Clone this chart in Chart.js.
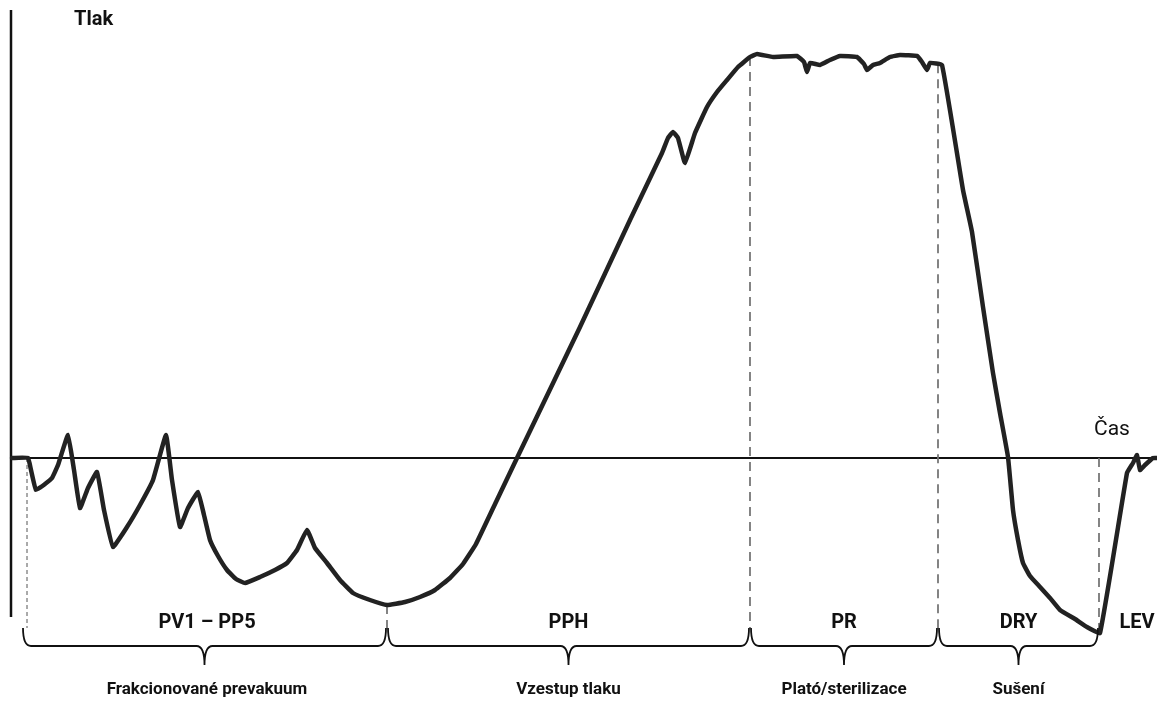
<!DOCTYPE html>
<html><head><meta charset="utf-8">
<script src="https://cdn.jsdelivr.net/npm/chart.js@4.4.1/dist/chart.umd.min.js"></script>
<style>html,body{margin:0;padding:0;background:#fff}#wrap{width:1157px;height:702px;position:relative}</style>
</head><body><div id="wrap"><canvas id="c"></canvas></div>
<script>
// time (arbitrary units) and pressure (arbitrary units, 0 = atmospheric)
const timeValues = [2,18,21,26,35,42,48,58,64,70,78,87,94,103,117,130,143,156,162,170,178,188,194,200,208,217,226,235,250,265,277,287,297,305,317,330,343,360,377,395,410,425,440,453,466,486,507,570,620,652,658,663,668,675,685,697,707,717,728,740,747,763,787,794,797,800,810,820,830,847,854,857,863,870,880,890,907,912,917,920,932,953,962,973,983,990,998,1003,1008,1013,1020,1030,1040,1050,1065,1077,1090,1117,1123,1127,1130,1135,1143,1147];
const pressureValues = [0,0,-12,-32,-26,-20,-7,23,-12,-50,-30,-14,-52,-89,-69,-47,-22,23,-22,-69,-50,-34,-57,-82,-98,-112,-121,-125,-119,-112,-105,-92,-72,-90,-105,-122,-135,-142,-147,-144,-139,-132,-120,-106,-86,-44,0,131,238,305,320,326,320,295,325,351,366,378,391,401,404,401,402,396,386,395,393,398,402,401,394,388,393,395,401,403,402,396,388,395,393,268,226,151,85,45,1,-52,-82,-105,-118,-129,-140,-152,-161,-169,-175,-15,-5,3,-12,-7,0,0];
const phaseBounds = [17, 377, 740, 928, 1089];
const phaseLabels = ["PV1 – PP5", "PPH", "PR", "DRY", "LEV"];
const groupLabels = ["Frakcionované prevakuum", "Vzestup tlaku", "Plató/sterilizace", "Sušení"];
const axisTitleY = "Tlak";
const axisTitleX = "Čas";

const FONT = 'Roboto, "DejaVu Sans", sans-serif';

function valueAt(t) {
  const k = timeValues.findIndex(tt => tt >= t);
  if (k <= 0) return pressureValues[0];
  const t0 = timeValues[k-1], t1 = timeValues[k];
  return pressureValues[k-1] + (pressureValues[k]-pressureValues[k-1])*(t-t0)/(t1-t0);
}

const decor = {
  id: 'decor',
  beforeDatasetsDraw(chart) {
    const {ctx, chartArea: a, scales: {x, y}} = chart;
    const y0 = y.getPixelForValue(0);
    ctx.save();
    // y axis
    ctx.strokeStyle = '#111'; ctx.lineWidth = 2.5;
    ctx.beginPath(); ctx.moveTo(a.left + 1, a.top); ctx.lineTo(a.left + 1, a.bottom - 1); ctx.stroke();
    // zero line
    ctx.lineWidth = 2;
    ctx.beginPath(); ctx.moveTo(a.left, y0); ctx.lineTo(a.right, y0); ctx.stroke();
    // dashed phase boundaries
    phaseBounds.forEach((t, i) => {
      const px = x.getPixelForValue(t);
      const v = (i === 0 || i === 4) ? 0 : valueAt(t);
      if (i === 0) { ctx.strokeStyle = '#555'; ctx.lineWidth = 1; ctx.setLineDash([4, 3]); }
      else { ctx.strokeStyle = '#777'; ctx.lineWidth = 1.8; ctx.setLineDash([9, 6]); }
      ctx.beginPath(); ctx.moveTo(px, y.getPixelForValue(v)); ctx.lineTo(px, a.bottom + 10); ctx.stroke();
    });
    ctx.restore();
  },
  afterDraw(chart) {
    const {ctx, chartArea: a, scales: {x, y}} = chart;
    ctx.save();
    ctx.fillStyle = '#111'; ctx.strokeStyle = '#111';
    // braces
    const yb = a.bottom + 28, yTop = a.bottom + 10, yTip = a.bottom + 47;
    ctx.lineWidth = 1.8; ctx.setLineDash([]);
    for (let i = 0; i < 4; i++) {
      const x1 = x.getPixelForValue(phaseBounds[i]) + (i === 0 ? -4 : 1);
      const x2 = x.getPixelForValue(phaseBounds[i+1]) - 1;
      const xm = (x1 + x2) / 2;
      const r = 8;
      ctx.beginPath();
      ctx.moveTo(x1, yTop);
      ctx.quadraticCurveTo(x1, yb, x1 + r, yb);
      ctx.lineTo(xm - r, yb);
      ctx.quadraticCurveTo(xm, yb, xm, yTip);
      ctx.quadraticCurveTo(xm, yb, xm + r, yb);
      ctx.lineTo(x2 - r, yb);
      ctx.quadraticCurveTo(x2, yb, x2, yTop);
      ctx.stroke();
    }
    // phase labels
    ctx.textAlign = 'center'; ctx.textBaseline = 'middle';
    ctx.font = 'bold 20px ' + FONT;
    for (let i = 0; i < 4; i++) {
      const xm = (x.getPixelForValue(phaseBounds[i]) + x.getPixelForValue(phaseBounds[i+1])) / 2;
      ctx.fillText(phaseLabels[i], xm, a.bottom + 5);
    }
    ctx.fillText(phaseLabels[4], (x.getPixelForValue(phaseBounds[4]) + a.right) / 2 + 9, a.bottom + 5);
    ctx.font = 'bold 17px ' + FONT;
    for (let i = 0; i < 4; i++) {
      const xm = (x.getPixelForValue(phaseBounds[i]) + x.getPixelForValue(phaseBounds[i+1])) / 2;
      ctx.fillText(groupLabels[i], xm, a.bottom + 72);
    }
    // axis titles
    ctx.font = 'bold 20px ' + FONT;
    ctx.textAlign = 'left';
    ctx.fillText(axisTitleY, 74, 20);
    ctx.font = '21px ' + FONT;
    ctx.fillText(axisTitleX, 1094, y.getPixelForValue(0) - 28);
    ctx.restore();
  }
};

new Chart(document.getElementById('c'), {
  type: 'line',
  data: {
    datasets: [{
      data: timeValues.map((t, i) => ({x: t, y: pressureValues[i]})),
      borderColor: '#222', borderWidth: 4.5, pointRadius: 0, tension: 0.1,
      borderCapStyle: 'round', borderJoinStyle: 'round', fill: false, clip: false
    }]
  },
  options: {
    responsive: true, maintainAspectRatio: false, animation: false,
    layout: {padding: {left: 10, top: 10, right: 0, bottom: 84}},
    plugins: {legend: {display: false}, tooltip: {enabled: false}},
    scales: {
      x: {type: 'linear', min: 0, max: 1147, display: false},
      y: {type: 'linear', min: -160, max: 448, display: false}
    }
  },
  plugins: [decor]
});
</script></body></html>
